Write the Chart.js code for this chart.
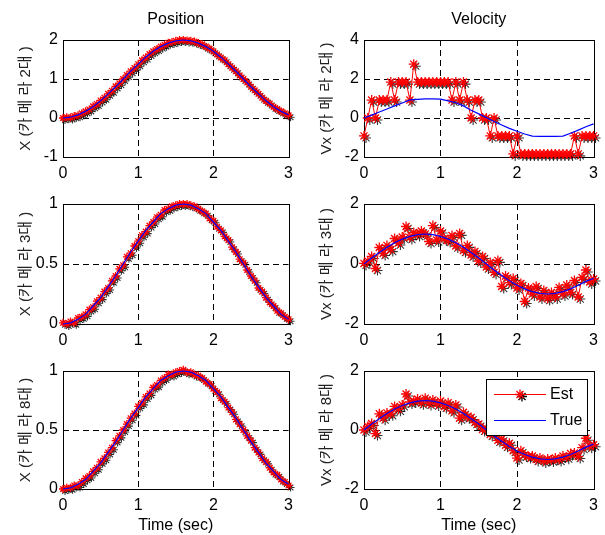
<!DOCTYPE html>
<html>
<head>
<meta charset="utf-8">
<script src="https://cdn.jsdelivr.net/npm/chart.js@4"></script>
<style>
  body { margin: 0; background: #fff; }
  #wrap { position: relative; width: 605px; height: 535px; }
  canvas { position: absolute; }
</style>
</head>
<body>
<div id="wrap">
  <canvas id="c1" width="300" height="180" style="left:0;top:0"></canvas>
  <canvas id="c2" width="305" height="180" style="left:300px;top:0"></canvas>
  <canvas id="c3" width="300" height="170" style="left:0;top:180px"></canvas>
  <canvas id="c4" width="305" height="170" style="left:300px;top:180px"></canvas>
  <canvas id="c5" width="300" height="185" style="left:0;top:350px"></canvas>
  <canvas id="c6" width="305" height="185" style="left:300px;top:350px"></canvas>
</div>
<script>
// time bases
const tTrue = [0,0.1,0.2,0.3,0.4,0.5,0.6,0.7,0.8,0.9,1,1.1,1.2,1.3,1.4,1.5,1.6,1.7,1.8,1.9,2,2.1,2.2,2.3,2.4,2.5,2.6,2.7,2.8,2.9,3];
const tEst = [0,0.05,0.1,0.15,0.2,0.25,0.3,0.35,0.4,0.45,
  0.5,0.55,0.6,0.65,0.7,0.75,0.8,0.85,0.9,0.95,
  1,1.05,1.1,1.15,1.2,1.25,1.3,1.35,1.4,1.45,
  1.5,1.55,1.6,1.65,1.7,1.75,1.8,1.85,1.9,1.95,
  2,2.05,2.1,2.15,2.2,2.25,2.3,2.35,2.4,2.45,
  2.5,2.55,2.6,2.65,2.7,2.75,2.8,2.85,2.9,2.95,
  3];

// tick labels
const timeTicks = [0, 1, 2, 3];
const posTicks2 = [-1, 0, 1, 2];
const velTicks2 = [-2, 0, 2, 4];
const posTicks = [0, 0.5, 1];
const velTicks = [-2, 0, 2];

// camera 2
const posTrue2 = [0,0.02,0.08,0.17,0.29,0.44,0.62,0.80,1.0,1.20,1.38,1.56,1.71,1.83,1.92,1.98,2.0,1.98,1.92,1.83,1.71,1.56,1.38,1.20,1.0,0.80,0.62,0.44,0.29,0.17,0.08];
const posEst2 = [0.00,0.02,0.01,0.05,0.07,0.12,0.17,0.22,0.30,0.36,
  0.45,0.52,0.62,0.70,0.81,0.89,1.00,1.10,1.20,1.28,
  1.38,1.48,1.55,1.64,1.71,1.77,1.83,1.88,1.93,1.95,
  1.98,2.00,2.00,1.99,1.98,1.96,1.92,1.89,1.83,1.78,
  1.71,1.63,1.55,1.48,1.38,1.29,1.20,1.09,1.00,0.91,
  0.80,0.71,0.62,0.52,0.44,0.37,0.29,0.23,0.17,0.12,
  0.07];
const velTrue2 = [0,0.15,0.31,0.46,0.62,0.77,0.93,0.96,0.98,0.98,0.97,0.88,0.78,0.62,0.40,0.21,0.02,-0.18,-0.36,-0.53,-0.68,-0.82,-0.93,-0.94,-0.94,-0.94,-0.93,-0.78,-0.62,-0.45,-0.30];
const velEst2 = [-0.92,0,0.92,0,0.92,0.92,0.92,1.84,0.92,1.84,
  1.84,1.84,0.92,2.76,1.84,1.84,1.84,1.84,1.84,1.84,
  1.84,1.84,1.84,0.92,1.84,0.92,1.84,0.92,0,0.92,
  0.92,0,0,-0.92,0,-0.92,-0.92,-0.92,-0.92,-1.84,
  -0.92,-1.84,-1.84,-1.84,-1.84,-1.84,-1.84,-1.84,-1.84,-1.84,
  -1.84,-1.84,-1.84,-1.84,-1.84,-0.92,-1.84,-0.92,-0.92,-0.92,
  -0.92];

// cameras 3 and 8 share the true trajectory
const posTrue = [0,0.01,0.04,0.08,0.15,0.22,0.31,0.40,0.50,0.60,0.69,0.78,0.85,0.92,0.96,0.99,1.0,0.99,0.96,0.92,0.85,0.78,0.69,0.60,0.50,0.40,0.31,0.22,0.15,0.08,0.04];
const velTrue = [0,0.20,0.38,0.56,0.71,0.83,0.92,0.98,1.0,0.98,0.92,0.83,0.71,0.56,0.38,0.20,0,-0.20,-0.38,-0.56,-0.71,-0.83,-0.92,-0.98,-1.0,-0.98,-0.92,-0.83,-0.71,-0.58,-0.48];

// camera 3
const posEst3 = [0.01,0.00,0.02,0.01,0.05,0.06,0.08,0.12,0.14,0.19,
  0.22,0.27,0.30,0.36,0.40,0.46,0.49,0.56,0.59,0.65,
  0.69,0.74,0.77,0.82,0.85,0.89,0.91,0.95,0.96,0.98,
  0.99,1.00,1.00,1.00,0.99,0.98,0.96,0.94,0.92,0.88,
  0.86,0.81,0.78,0.73,0.70,0.64,0.60,0.54,0.51,0.45,
  0.40,0.36,0.30,0.27,0.22,0.18,0.15,0.11,0.09,0.06,
  0.04];
const velEst3 = [0.02,0.10,0.25,-0.15,0.55,0.35,0.62,0.48,0.85,0.70,
  0.90,1.25,0.88,1.05,0.98,1.10,1.00,0.75,1.28,0.80,
  1.10,0.85,0.78,0.95,0.60,1.02,0.45,0.62,0.30,0.42,
  0.10,0.25,-0.10,0.05,-0.28,0.12,-0.75,-0.40,-0.62,-0.48,
  -0.80,-0.65,-1.25,-0.80,-1.00,-0.75,-1.10,-0.88,-1.15,-0.95,
  -1.10,-0.78,-1.00,-0.70,-0.95,-0.55,-1.10,-0.45,-0.20,-0.60,
  -0.50];

// camera 8
const posEst8 = [0.00,0.01,0.01,0.03,0.03,0.06,0.09,0.11,0.15,0.18,
  0.23,0.26,0.31,0.35,0.41,0.45,0.50,0.55,0.60,0.64,
  0.70,0.73,0.78,0.81,0.86,0.88,0.92,0.94,0.97,0.97,
  0.99,1.00,1.01,0.99,0.99,0.97,0.96,0.94,0.91,0.89,
  0.85,0.82,0.77,0.74,0.69,0.65,0.59,0.55,0.50,0.45,
  0.41,0.35,0.31,0.26,0.23,0.18,0.14,0.12,0.08,0.06,
  0.03];
const velEst8 = [0.00,0.12,0.22,-0.12,0.55,0.40,0.58,0.55,0.80,0.70,
  0.85,1.22,0.95,0.98,1.05,0.92,1.08,0.90,1.02,0.88,
  0.98,0.80,0.92,0.65,0.85,0.40,0.60,0.45,0.42,0.25,
  0.20,0.02,0.05,-0.15,-0.10,-0.35,-0.30,-0.52,-0.45,-0.70,
  -0.95,-0.70,-0.85,-0.90,-0.88,-1.00,-0.95,-1.05,-0.98,-1.02,
  -0.95,-1.00,-0.88,-0.92,-0.80,-0.78,-0.90,-0.60,-0.28,-0.55,
  -0.50];

const FONT = '"Liberation Sans", Arial, "Noto Sans CJK KR", sans-serif';

function pts(ts, vs) {
  return ts.map((t, i) => ({ x: t, y: vs[i] }));
}

function gridColor(ticks) {
  const lo = ticks[0], hi = ticks[ticks.length - 1];
  return ctx => {
    const v = ctx.tick ? ctx.tick.value : null;
    return (v === lo || v === hi) ? 'rgba(0,0,0,0)' : '#000';
  };
}

const framePlugin = {
  id: 'frame',
  beforeDatasetsDraw(chart) {
    const a = chart.chartArea, ctx = chart.ctx;
    ctx.save();
    ctx.strokeStyle = '#000';
    ctx.lineWidth = 1;
    ctx.strokeRect(Math.round(a.left) + 0.5, Math.round(a.top) + 0.5, Math.round(a.width), Math.round(a.height));
    ctx.restore();
  },
  // the dark copy of the estimate markers sits slightly down and right
  beforeDatasetDraw(chart, args) {
    if (chart.data.datasets[args.index].isShadow) {
      chart.ctx.save();
      chart.ctx.translate(2, 2);
    }
  },
  afterDatasetDraw(chart, args) {
    if (chart.data.datasets[args.index].isShadow) chart.ctx.restore();
  },
  afterDraw(chart, args, o) {
    const a = chart.chartArea, ctx = chart.ctx;
    ctx.save();
    ctx.font = '16px ' + FONT;
    ctx.fillStyle = '#000';
    ctx.textBaseline = 'middle';
    if (o.title) {
      ctx.textAlign = 'center';
      ctx.fillText(o.title, (a.left + a.right) / 2, a.top - 20);
    }
    if (o.legendBox) {
      const w = 101, h = 56;
      const x = Math.round(a.right) - 7 - w, y = Math.round(a.top) + 8;
      ctx.fillStyle = '#fff';
      ctx.fillRect(x, y, w, h);
      ctx.strokeStyle = '#000';
      ctx.lineWidth = 1;
      ctx.strokeRect(x + 0.5, y + 0.5, w, h);
      chart.data.datasets.filter(ds => !ds.isShadow).forEach((ds, i) => {
        const ly = y + 15.5 + i * 26;
        ctx.strokeStyle = ds.borderColor;
        ctx.lineWidth = ds.borderWidth;
        ctx.beginPath();
        ctx.moveTo(x + 8, ly);
        ctx.lineTo(x + 60, ly);
        ctx.stroke();
        if (ds.pointRadius > 0) {
          ctx.lineWidth = ds.pointBorderWidth;
          ctx.strokeStyle = '#000';
          Chart.helpers.drawPoint(ctx, { pointStyle: ds.pointStyle, radius: 5, borderWidth: ds.pointBorderWidth, rotation: 0 }, x + 36, ly + 2);
          ctx.strokeStyle = ds.borderColor;
          Chart.helpers.drawPoint(ctx, { pointStyle: ds.pointStyle, radius: 5, borderWidth: ds.pointBorderWidth, rotation: 0 }, x + 34, ly);
        }
        ctx.fillStyle = '#000';
        ctx.textAlign = 'left';
        ctx.fillText(ds.label, x + 64, ly);
      });
    }
    ctx.restore();
  }
};

function makePlot(id, p) {
  new Chart(document.getElementById(id), {
    type: 'line',
    data: {
      datasets: [
        {
          label: 'Est', data: pts(tEst, p.est),
          borderColor: '#ff0000', backgroundColor: '#ff0000', borderWidth: 1,
          pointStyle: 'star', pointRadius: p.star, pointBorderWidth: 1.3,
          pointBorderColor: '#ff0000', order: 1, clip: false
        },
        {
          label: 'True', data: pts(tTrue, p.tru),
          borderColor: '#0000ff', borderWidth: 1.2, pointRadius: 0,
          order: 0, clip: false
        },
        {
          label: '', data: pts(tEst, p.est), isShadow: true, showLine: false,
          borderColor: '#000', backgroundColor: '#000',
          pointStyle: 'star', pointRadius: p.star, pointBorderWidth: 1.1,
          pointBorderColor: 'rgba(0,0,0,0.8)', order: 2, clip: false
        }
      ]
    },
    options: {
      responsive: false,
      animation: false,
      events: [],
      layout: { autoPadding: false, padding: { top: p.padTop, right: p.padRight, left: 0, bottom: 0 } },
      plugins: {
        legend: { display: false },
        tooltip: { enabled: false },
        frame: { title: p.title, legendBox: p.legend }
      },
      scales: {
        x: {
          type: 'linear', min: 0, max: 3,
          afterBuildTicks: s => { s.ticks = timeTicks.map(v => ({ value: v })); },
          afterFit: s => { s.height = p.xH; },
          grid: { color: gridColor(timeTicks), lineWidth: 1, drawTicks: false },
          border: { display: false, dash: [6, 4] },
          ticks: { color: '#000', font: { family: FONT, size: 16 }, padding: 7, maxRotation: 0, callback: v => String(v) },
          title: {
            display: !!p.xTitle, text: p.xTitle, color: '#000',
            font: { family: FONT, size: 16 }, padding: { top: 0, bottom: 0 }
          }
        },
        y: {
          type: 'linear', min: p.yTicks[0], max: p.yTicks[p.yTicks.length - 1],
          afterBuildTicks: s => { s.ticks = p.yTicks.map(v => ({ value: v })); },
          afterFit: s => { s.width = p.yW; },
          grid: { color: gridColor(p.yTicks), lineWidth: 1, drawTicks: false },
          border: { display: false, dash: [6, 4] },
          ticks: { color: '#000', font: { family: FONT, size: 16 }, padding: 5, callback: v => String(v) },
          title: {
            display: true, text: p.yLabel, color: '#222',
            font: { family: FONT, size: 15 }, padding: { top: p.yTitlePad, bottom: 0 }
          }
        }
      }
    },
    plugins: [framePlugin]
  });
}

const left = { yW: 63, padRight: 7, yTitlePad: 17 };
const right = { yW: 64, padRight: 10, yTitlePad: 18 };
const row1 = { padTop: 40, xH: 23 };
const row2 = { padTop: 24, xH: 26 };
const row3 = { padTop: 21, xH: 46, xTitle: 'Time (sec)' };

makePlot('c1', Object.assign({}, left, row1, {
  title: 'Position', yLabel: 'X (카 메 라 2대 )', yTicks: posTicks2,
  est: posEst2, tru: posTrue2, star: 4
}));
makePlot('c2', Object.assign({}, right, row1, {
  title: 'Velocity', yLabel: 'Vx (카 메 라 2대 )', yTicks: velTicks2,
  est: velEst2, tru: velTrue2, star: 5
}));
makePlot('c3', Object.assign({}, left, row2, {
  yLabel: 'X (카 메 라 3대 )', yTicks: posTicks,
  est: posEst3, tru: posTrue, star: 4
}));
makePlot('c4', Object.assign({}, right, row2, {
  yLabel: 'Vx (카 메 라 3대 )', yTicks: velTicks,
  est: velEst3, tru: velTrue, star: 5
}));
makePlot('c5', Object.assign({}, left, row3, {
  yLabel: 'X (카 메 라 8대 )', yTicks: posTicks,
  est: posEst8, tru: posTrue, star: 4
}));
makePlot('c6', Object.assign({}, right, row3, {
  yLabel: 'Vx (카 메 라 8대 )', yTicks: velTicks,
  est: velEst8, tru: velTrue, star: 5, legend: true
}));
</script>
</body>
</html>
